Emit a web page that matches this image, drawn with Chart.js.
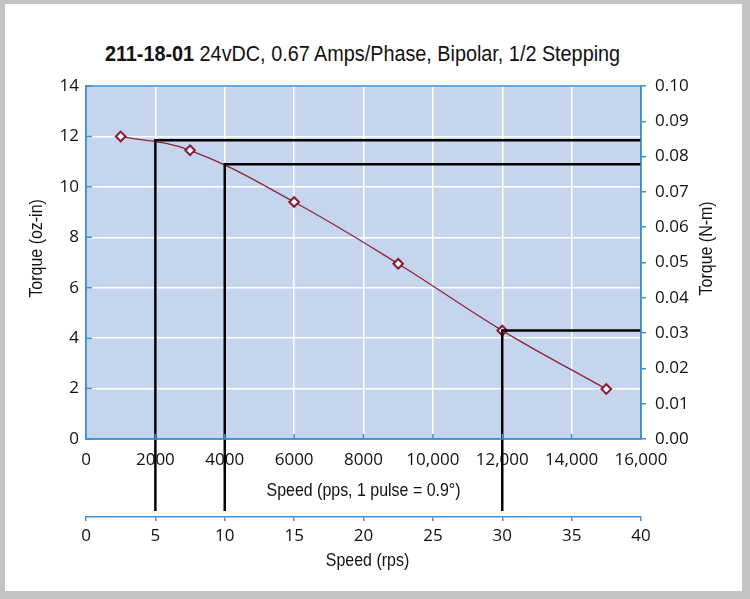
<!DOCTYPE html>
<html>
<head>
<meta charset="utf-8">
<title>211-18-01 Speed / Torque</title>
<script src="https://cdn.jsdelivr.net/npm/chart.js@4.4.1/dist/chart.umd.min.js"></script>
<style>
  html, body { margin: 0; padding: 0; }
  body { width: 750px; height: 599px; background: #c3c3c3; position: relative; overflow: hidden; }
  .sheet { position: absolute; left: 5px; top: 4px; width: 737px; height: 587px; background: #fff; }
  .title {
    position: absolute; left: 0; top: 42px; width: 725px; text-align: center;
    font-family: 'Liberation Sans', Arial, sans-serif;
    font-size: 22px; line-height: 24px; color: #111; white-space: nowrap;
    transform: scaleX(0.9); transform-origin: 362.5px 0;
  }
  .wrap { position: absolute; left: 0; top: 0; width: 750px; height: 599px; }
</style>
</head>
<body>
<div class="sheet"></div>
<div class="title"><b>211-18-01</b> 24vDC, 0.67 Amps/Phase, Bipolar, 1/2 Stepping</div>
<div class="wrap"><canvas id="torqueChart"></canvas></div>

<script>
/* =========================================
   Speed / torque curve, 211-18-01
   ========================================= */

// ---- Data ----
const speedPps   = [1000, 3000, 6000, 9000, 12000, 15000];
const torqueOzIn = [12.0, 11.45, 9.4, 6.95, 4.3, 1.98];

// operating points marked with the black guide lines
const guideSpeedPps   = [2000, 4000, 12000];
const guideTorqueOzIn = [11.85, 10.9, 4.3];

// ---- Tick labels ----
const ppsTicks  = [0, 2000, 4000, 6000, 8000, 10000, 12000, 14000, 16000];
const ppsLabels = ['0', '2000', '4000', '6000', '8000', '10,000', '12,000', '14,000', '16,000'];
const rpsTicks  = [0, 5, 10, 15, 20, 25, 30, 35, 40];
const ozInTicks = [0, 2, 4, 6, 8, 10, 12, 14];
const nmTicks   = [0, 0.01, 0.02, 0.03, 0.04, 0.05, 0.06, 0.07, 0.08, 0.09, 0.10];

// ---- Look ----
const PLOT_BG   = '#c6d5ee';
const AXIS_BLUE = '#3f8fd2';
const CURVE     = '#8a2440';
const TICK_FONT = { family: "'Open Sans', 'Noto Sans', sans-serif", size: 17 };
const LABEL_FONT = "19px 'Liberation Sans', Arial, sans-serif";
const NARROW = 0.84;   // squeeze Liberation Sans toward a condensed face

const useTicks = (list) => (scale) => { scale.ticks = list.map(v => ({ value: v })); };

// condensed text: scale along the writing direction only
function narrowText(ctx, text, x, y, angle) {
  ctx.save();
  ctx.translate(x, y);
  ctx.rotate(angle);
  ctx.scale(NARROW, 1);
  ctx.fillText(text, 0, 0);
  ctx.restore();
}

// background, frame, inner tick marks, guide lines and axis titles
const chartDecor = {
  id: 'chartDecor',
  beforeDraw(chart) {
    const { ctx, chartArea: a } = chart;
    ctx.save();
    ctx.fillStyle = PLOT_BG;
    ctx.fillRect(a.left, a.top, a.width, a.height);
    ctx.restore();
  },
  afterDatasetsDraw(chart) {
    const { ctx, chartArea: a, scales } = chart;
    const { x, y, x2 } = scales;
    ctx.save();
    ctx.strokeStyle = '#000';
    ctx.lineWidth = 2.5;
    guideSpeedPps.forEach((s, i) => {
      const px = x.getPixelForValue(s);
      const py = y.getPixelForValue(guideTorqueOzIn[i]);
      ctx.beginPath();
      ctx.moveTo(a.right, py);
      ctx.lineTo(px, py);
      ctx.lineTo(px, x2.top - 6);
      ctx.stroke();
    });
    ctx.restore();
  },
  afterDraw(chart) {
    const { ctx, chartArea: a, scales } = chart;
    const { x, y, y2, x2 } = scales;
    ctx.save();

    // frame round the plot
    ctx.strokeStyle = AXIS_BLUE;
    ctx.lineWidth = 1.5;
    ctx.strokeRect(a.left, a.top, a.width, a.height);

    // short inner ticks on the left and bottom axes
    ctx.beginPath();
    ozInTicks.forEach(v => {
      const py = y.getPixelForValue(v);
      ctx.moveTo(a.left, py); ctx.lineTo(a.left + 6, py);
    });
    ppsTicks.forEach(v => {
      const px = x.getPixelForValue(v);
      ctx.moveTo(px, a.bottom); ctx.lineTo(px, a.bottom - 5);
    });
    ctx.stroke();

    // axis titles
    ctx.fillStyle = '#111';
    ctx.font = LABEL_FONT;
    ctx.textAlign = 'center';
    ctx.textBaseline = 'alphabetic';
    const midX = (a.left + a.right) / 2;
    const midY = a.top + a.height * 0.46;
    narrowText(ctx, 'Speed (pps, 1 pulse = 0.9°)', midX, a.bottom + 57, 0);
    narrowText(ctx, 'Speed (rps)', midX + 4, x2.top + 49, 0);
    narrowText(ctx, 'Torque (oz-in)', y.left + 42, midY, -Math.PI / 2);
    narrowText(ctx, 'Torque (N-m)', y2.left + 71, midY, -Math.PI / 2);
    ctx.restore();
  }
};

// ---- Speed / Torque Chart ----
(function initChart() {
  const el = document.getElementById('torqueChart');
  if (!el) return;

  new Chart(el, {
    type: 'line',
    data: {
      datasets: [{
        label: 'Torque',
        data: speedPps.map((s, i) => ({ x: s, y: torqueOzIn[i] })),
        borderColor: CURVE,
        borderWidth: 1.3,
        tension: 0.4,
        pointStyle: 'rectRot',
        pointRadius: 4.8,
        pointBorderWidth: 2,
        pointBackgroundColor: '#fff',
        pointBorderColor: '#8c1830',
        xAxisID: 'x',
        yAxisID: 'y'
      }]
    },
    options: {
      responsive: true,
      maintainAspectRatio: false,
      animation: false,
      layout: { padding: { top: 86, left: 0, right: 0, bottom: 0 } },
      plugins: {
        legend: { display: false },
        tooltip: { enabled: false }
      },
      scales: {
        x: {
          type: 'linear', position: 'bottom', weight: 0,
          min: 0, max: 16000,
          afterBuildTicks: useTicks(ppsTicks),
          afterFit: (s) => { s.height = 78; },
          grid: { color: '#fff', lineWidth: 1.5, drawTicks: false },
          border: { display: true, color: AXIS_BLUE, width: 1.5 },
          ticks: {
            color: '#111', font: TICK_FONT, padding: 11, maxRotation: 0, autoSkip: false,
            callback: (v) => ppsLabels[ppsTicks.indexOf(v)]
          }
        },
        x2: {
          type: 'linear', position: 'bottom', weight: 1,
          min: 0, max: 40,
          afterBuildTicks: useTicks(rpsTicks),
          afterFit: (s) => { s.height = 82; },
          grid: { drawOnChartArea: false, drawTicks: true, tickLength: 4, color: AXIS_BLUE, lineWidth: 1.5 },
          border: { display: true, color: AXIS_BLUE, width: 1.5 },
          ticks: { color: '#111', font: TICK_FONT, padding: 5, maxRotation: 0, autoSkip: false }
        },
        y: {
          type: 'linear', position: 'left',
          min: 0, max: 14,
          afterBuildTicks: useTicks(ozInTicks),
          afterFit: (s) => { s.width = 86; },
          grid: { color: '#fff', lineWidth: 1.5, drawTicks: false },
          border: { display: true, color: AXIS_BLUE, width: 1.5 },
          ticks: { color: '#111', font: TICK_FONT, padding: 7 }
        },
        y2: {
          type: 'linear', position: 'right',
          min: 0, max: 0.10,
          afterBuildTicks: useTicks(nmTicks),
          afterFit: (s) => { s.width = 109; },
          grid: { drawOnChartArea: false, drawTicks: true, tickLength: 5, color: AXIS_BLUE, lineWidth: 1.5 },
          border: { display: true, color: AXIS_BLUE, width: 1.5 },
          ticks: { color: '#111', font: TICK_FONT, padding: 9, callback: (v) => v.toFixed(2) }
        }
      }
    },
    plugins: [chartDecor]
  });
})();
</script>
</body>
</html>
